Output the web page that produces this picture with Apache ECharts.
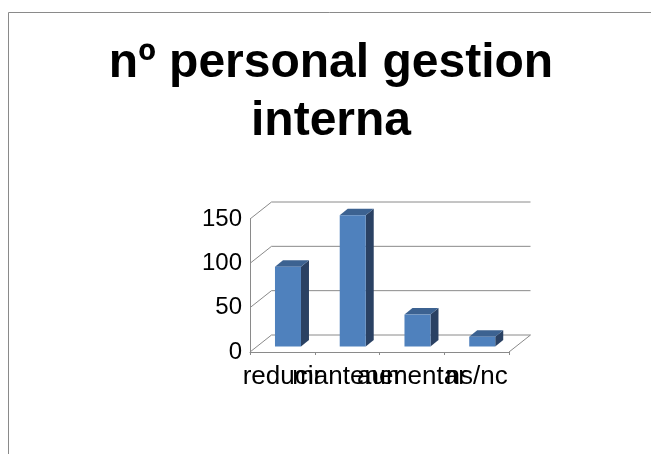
<!DOCTYPE html>
<html>
<head>
<meta charset="utf-8">
<style>html,body{margin:0;padding:0;background:#fff}#c{width:651px;height:454px}</style>
<script src="https://cdn.jsdelivr.net/npm/echarts@6/dist/echarts.min.js"></script>
</head>
<body>
<div id="c"></div>
<script>
const categories = ['reducir', 'mantener', 'aumentar', 'ns/nc'];
const values = [90, 148, 36, 11];
const gridValues = [0, 50, 100, 150];
const titleText = 'nº personal gestion\ninterna';

const chart = echarts.init(document.getElementById('c'), null, {renderer: 'canvas'});
const lineColor = '#8a8a8a';
const depthX = 21.5, depthY = 17;

function renderWall(params, api) {
  const v = api.value(0);
  const cs = params.coordSys;
  const y = api.coord([0, v])[1];
  const x0 = cs.x, x1 = cs.x + cs.width;
  const children = [
    {type: 'line', shape: {x1: x0, y1: y, x2: x0 + depthX, y2: y - depthY},
     style: {stroke: lineColor, lineWidth: 1}},
    {type: 'line', shape: {x1: x0 + depthX, y1: y - depthY, x2: x1 + depthX, y2: y - depthY},
     style: {stroke: lineColor, lineWidth: 1}}
  ];
  if (v === 0) {
    children.push({type: 'line', shape: {x1: x1, y1: y, x2: x1 + depthX, y2: y - depthY},
      style: {stroke: lineColor, lineWidth: 1}});
  }
  return {type: 'group', children};
}

function renderBar(params, api) {
  const top = api.coord([api.value(0), api.value(1)]);
  const base = api.coord([api.value(0), 0]);
  const w = 26, dx = 8, dy = 6.5, ox = 5.6, oy = -5.5;
  const l = top[0] + ox - w / 2, r = l + w;
  const t = top[1] + oy, b = base[1] + oy;
  return {type: 'group', children: [
    {type: 'polygon', shape: {points: [[r, t], [r + dx, t - dy], [r + dx, b - dy], [r, b]]},
     style: {fill: '#2a4163'}},
    {type: 'polygon', shape: {points: [[l, t], [l + dx, t - dy], [r + dx, t - dy], [r, t]]},
     style: {fill: '#3c6291'}},
    {type: 'rect', shape: {x: l, y: t, width: w, height: b - t},
     style: {fill: '#4f81bd'}}
  ]};
}

chart.setOption({
  animation: false,
  backgroundColor: '#fff',
  title: {
    text: titleText, left: 331, top: 35, padding: 0, textAlign: 'center',
    textStyle: {fontFamily: 'Liberation Sans', fontWeight: 'bold', fontSize: 48, lineHeight: 58, color: '#000'}
  },
  grid: {left: 250, top: 219, width: 259, height: 133},
  xAxis: {
    type: 'category', data: categories,
    axisLine: {lineStyle: {color: lineColor, width: 1}},
    axisTick: {show: true, alignWithLabel: false, length: 3, lineStyle: {color: lineColor}},
    axisLabel: {
      interval: 0, hideOverlap: false, margin: 12, color: '#000',
      fontFamily: 'Liberation Sans', fontSize: 26
    }
  },
  yAxis: {
    type: 'value', min: 0, max: 150, interval: 50,
    axisLine: {show: true, lineStyle: {color: lineColor, width: 1}},
    axisTick: {show: false},
    splitLine: {show: false},
    axisLabel: {margin: 8, padding: [7, 0, 0, 0], color: '#000', fontFamily: 'Liberation Sans', fontSize: 24}
  },
  graphic: [
    {type: 'line', silent: true, shape: {x1: 8.5, y1: 12.5, x2: 651, y2: 12.5}, style: {stroke: lineColor, lineWidth: 1}},
    {type: 'line', silent: true, shape: {x1: 8.5, y1: 12.5, x2: 8.5, y2: 454}, style: {stroke: lineColor, lineWidth: 1}}
  ],
  series: [
    {type: 'custom', silent: true, clip: false, coordinateSystem: 'cartesian2d', z: 1,
     encode: {y: 0}, data: gridValues.map(v => [v]), renderItem: renderWall},
    {type: 'custom', silent: true, clip: false, coordinateSystem: 'cartesian2d', z: 2,
     encode: {x: 0, y: 1}, data: values.map((v, i) => [i, v]), renderItem: renderBar}
  ]
});
</script>
</body>
</html>
